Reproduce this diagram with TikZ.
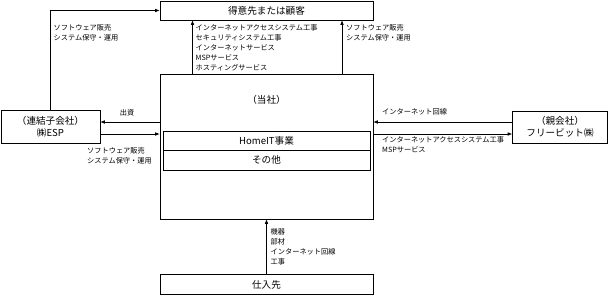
\documentclass[tikz,border=0pt]{standalone}
\usepackage{fontspec}
\setmainfont{Noto Sans CJK JP}
\usetikzlibrary{arrows.meta}
\begin{document}
\begin{tikzpicture}[x=1pt, y=-1pt,
  box/.style={draw, line width=0.6pt, inner sep=0pt, font=\fontsize{9.6}{12}\selectfont},
  flow/.style={line width=0.6pt, -{Latex[length=4.5pt,width=3.6pt]}},
  note/.style={inner sep=0pt, align=left, font=\fontsize{7.2}{10}\selectfont}]
  \useasboundingbox (0,0) rectangle (608,295);

  % boxes
  \node[box, minimum width=213, minimum height=19] (customer) at (266.5,10.5) {得意先または顧客};
  \node[box, minimum width=213, minimum height=145] (company) at (266.5,146.5) {};
  \node[font=\fontsize{9.6}{12}\selectfont] (company-name) at (266.5,100) {（当社）};
  \node[box, minimum width=207, minimum height=19] (homeit) at (266.5,140.5) {HomeIT事業};
  \node[box, minimum width=207, minimum height=20] (other) at (266.5,160) {その他};
  \node[box, minimum width=99, minimum height=33, align=center] (esp) at (50.5,127) {（連結子会社）\\㈱ESP};
  \node[box, minimum width=95, minimum height=32, align=center] (freebit) at (560,127) {（親会社）\\フリービット㈱};
  \node[box, minimum width=213, minimum height=20] (supplier) at (266.5,284.5) {仕入先};

  % connectors
  \coordinate (esp-in) at ([yshift=5pt]esp.east);
  \coordinate (esp-out) at ([yshift=-7pt]esp.east);
  \coordinate (fb-in) at ([yshift=5pt]freebit.west);
  \coordinate (fb-out) at ([yshift=-7pt]freebit.west);

  \draw[flow] (esp.north) |- (customer.west);
  \draw[flow] ([xshift=-74pt]company.north) -- ([xshift=-74pt]customer.south);
  \draw[flow] ([xshift=75.5pt]company.north) -- ([xshift=75.5pt]customer.south);
  \draw[flow] (esp-in -| company.west) -- (esp-in);
  \draw[flow] (esp-out) -- (esp-out -| company.west);
  \draw[flow] (fb-in) -- (fb-in -| company.east);
  \draw[flow] (fb-out -| company.east) -- (fb-out);
  \draw[flow] (supplier.north) -- (company.south);

  % labels
  \node[note, anchor=north west] (esp-sales) at (53.5,24) {ソフトウェア販売\\システム保守・運用};
  \node[note, anchor=north west] (own-sales) at (195.5,24) {インターネットアクセスシステム工事\\セキュリティシステム工事\\インターネットサービス\\MSPサービス\\ホスティングサービス};
  \node[note, anchor=north west] (own-soft) at (346,24) {ソフトウェア販売\\システム保守・運用};
  \node[note] (capital) at (127,113) {出資};
  \node[note, anchor=north west] (esp-service) at (87,147) {ソフトウェア販売\\システム保守・運用};
  \node[note, anchor=west] (line) at (382,112) {インターネット回線};
  \node[note, anchor=north west] (fb-service) at (382,136) {インターネットアクセスシステム工事\\MSPサービス};
  \node[note, anchor=north west] (purchase) at (270.5,228) {機器\\部材\\インターネット回線\\工事};
\end{tikzpicture}
\end{document}
